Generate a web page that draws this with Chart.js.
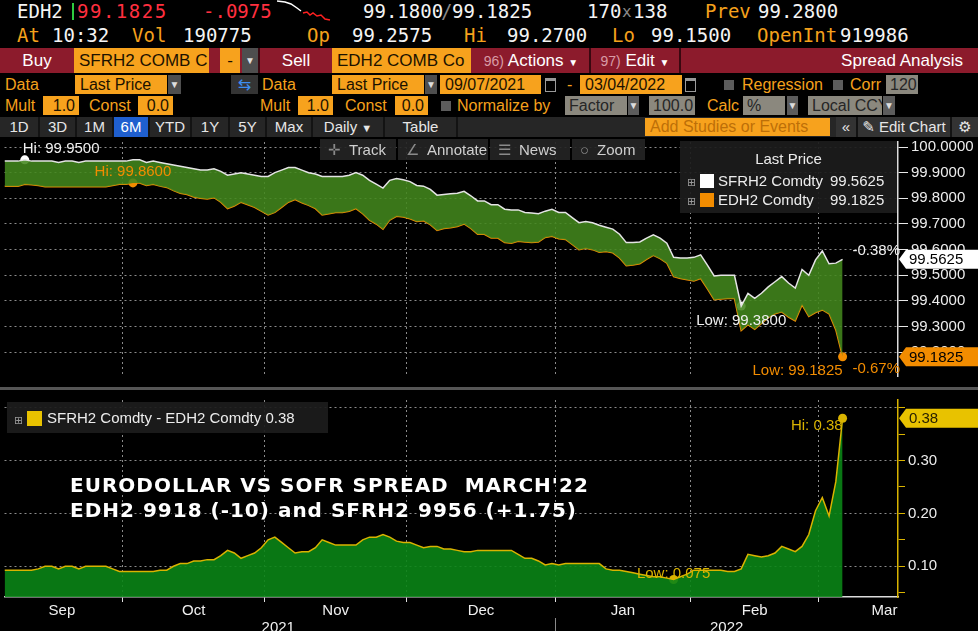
<!DOCTYPE html>
<html lang="en">

<head>
  <meta charset="UTF-8">
  <title>EDH2 vs SFRH2 Spread Analysis</title>
  <script src="https://cdn.jsdelivr.net/npm/chart.js"></script>
  <style>
    body { margin: 0; background: #000; width: 978px; height: 631px; overflow: hidden; position: relative; font-family: 'Liberation Sans', sans-serif; }
    #hdr { position: absolute; left: 0; top: 0; width: 978px; height: 137px; background: #000; z-index: 5; }
    .a { position: absolute; white-space: nowrap; }
    .m { font-family: 'DejaVu Sans Mono', monospace; font-size: 19px; line-height: 21px; }
    .o { color: #f5a11c; }
    .w { color: #f4f4f4; }
    .r { color: #ff2f3f; }
    .red { background: #8c1b2c; color: #fff; font-size: 17px; line-height: 25px; height: 25px; top: 48px; text-align: center; }
    .r3 { top: 48px; height: 25px; line-height: 25px; font-size: 17px; }
    .r4 { top: 75px; height: 19px; line-height: 19px; font-size: 16px; }
    .r5 { top: 96px; height: 19px; line-height: 19px; font-size: 16px; }
    .inp { background: #f7a21d; color: #1c1200; overflow: hidden; padding-left: 5px; box-sizing: border-box; }
    .rt { text-align: right; padding: 0 4px 0 0; }
    .gry { background: #8b887e; color: #262626; overflow: hidden; padding-left: 4px; box-sizing: border-box; }
    .dd { background: #4e4e4e; color: #ddd; text-align: center; font-size: 10px; }
    .chk { width: 10px; height: 10px; background: #5c5c5c; }
    .cal { width: 9px; height: 10px; border: 1px solid #9a9a9a; border-top: 3px solid #9a9a9a; }
    .btn { position: absolute; top: 117px; height: 20px; line-height: 20px; color: #e6e6e6; font-size: 15px; text-align: center; border-right: 2px solid #131313; box-sizing: border-box; }
    .tool { position: absolute; top: 139px; height: 21px; line-height: 21px; background: rgba(36, 36, 36, 0.92); color: #cfcfcf; font-size: 15px; z-index: 6; box-sizing: border-box; padding-left: 8px; }
    .tool span { color: #8a8a8a; margin-right: 8px; }
    .lgd { position: absolute; background: rgba(28, 28, 28, 0.93); z-index: 6; color: #ececec; font-size: 15px; }
    .plus { color: #9a9a9a; font-family: 'DejaVu Sans'; font-size: 11px; }
    .sq { display: inline-block; width: 14px; height: 14px; vertical-align: -2px; }
    canvas { position: absolute; left: 0; }
    #note { position: absolute; left: 70px; top: 473px; z-index: 6; color: #fff; font: bold 20px/25px 'DejaVu Sans', sans-serif; letter-spacing: 1px; white-space: pre;
      text-shadow: 1px 1px 0 #000, -1px -1px 0 #000, 1px -1px 0 #000, -1px 1px 0 #000; }
  </style>
</head>

<body>
  <div id="hdr">
    <!-- row 1 -->
    <span class="a m w" style="left:17px;top:1px">EDH2</span>
    <div class="a" style="left:72px;top:3px;width:2px;height:17px;background:#2ecc40"></div>
    <span class="a m r" style="left:77px;top:1px;letter-spacing:1.5px">99.1825</span>
    <span class="a m r" style="left:203px;top:1px">-.0975</span>
    <svg class="a" style="left:277px;top:0" width="56" height="22">
      <polyline points="0,1 8,2 14,4 20,8 24,11" fill="none" stroke="#fff" stroke-width="1.5" />
      <polyline points="26,13 30,12 33,15 36,13 40,16 44,15 48,19 53,20" fill="none" stroke="#ff2020" stroke-width="1.5" />
    </svg>
    <span class="a m w" style="left:363px;top:1px">99.1800</span>
    <span class="a m" style="left:441px;top:1px;color:#888">/</span>
    <span class="a m w" style="left:452px;top:1px">99.1825</span>
    <span class="a m w" style="left:587px;top:1px">170</span>
    <span class="a m" style="left:622px;top:1px;color:#888;font-size:16px">x</span>
    <span class="a m w" style="left:633px;top:1px">138</span>
    <span class="a m o" style="left:705px;top:1px">Prev</span>
    <span class="a m w" style="left:758px;top:1px">99.2800</span>
    <!-- row 2 -->
    <span class="a m o" style="left:17px;top:25px">At</span>
    <span class="a m w" style="left:52px;top:25px">10:32</span>
    <span class="a m o" style="left:132px;top:25px">Vol</span>
    <span class="a m w" style="left:183px;top:25px">190775</span>
    <span class="a m o" style="left:307px;top:25px">Op</span>
    <span class="a m w" style="left:352px;top:25px">99.2575</span>
    <span class="a m o" style="left:464px;top:25px">Hi</span>
    <span class="a m w" style="left:507px;top:25px">99.2700</span>
    <span class="a m o" style="left:612px;top:25px">Lo</span>
    <span class="a m w" style="left:651px;top:25px">99.1500</span>
    <span class="a m o" style="left:757px;top:25px">OpenInt</span>
    <span class="a m w" style="left:840px;top:25px">919986</span>
    <!-- row 3 -->
    <div class="a red" style="left:0;width:978px"></div>
    <div class="a red" style="left:0;width:74px">Buy</div>
    <div class="a inp r3" style="left:74px;width:135px">SFRH2 COMB C</div>
    <div class="a inp r3" style="left:220px;width:20px;padding:0;text-align:center">-</div>
    <div class="a dd r3" style="left:242px;width:16px">▼</div>
    <div class="a" style="left:258px;top:48px;width:2px;height:25px;background:#3a0810"></div>
    <div class="a red" style="left:260px;width:72px">Sell</div>
    <div class="a inp r3" style="left:332px;width:139px">EDH2 COMB Co</div>
    <div class="a red" style="left:473px;width:116px"><span style="color:#d99ca6;font-size:14px">96)</span> Actions <span style="font-size:10px">▼</span></div>
    <div class="a" style="left:589px;top:48px;width:2px;height:25px;background:#3a0810"></div>
    <div class="a red" style="left:591px;width:88px"><span style="color:#d99ca6;font-size:14px">97)</span> Edit <span style="font-size:10px">▼</span></div>
    <div class="a" style="left:679px;top:48px;width:2px;height:25px;background:#3a0810"></div>
    <div class="a red" style="left:681px;width:297px;text-align:right;padding-right:15px;box-sizing:border-box">Spread Analysis</div>
    <!-- row 4 -->
    <span class="a o r4" style="left:5px">Data</span>
    <div class="a inp r4" style="left:75px;width:92px">Last Price</div>
    <div class="a dd r4" style="left:168px;width:13px">▼</div>
    <div class="a r4" style="left:231px;width:27px;background:#343434;text-align:center;color:#3d8ef0;font-family:'DejaVu Sans'">⇆</div>
    <span class="a o r4" style="left:262px">Data</span>
    <div class="a inp r4" style="left:332px;width:92px">Last Price</div>
    <div class="a dd r4" style="left:425px;width:12px">▼</div>
    <div class="a inp r4" style="left:440px;width:101px">09/07/2021</div>
    <div class="a cal" style="left:545px;top:78px"></div>
    <span class="a o r4" style="left:567px">-</span>
    <div class="a inp r4" style="left:580px;width:102px">03/04/2022</div>
    <div class="a cal" style="left:685px;top:78px"></div>
    <div class="a chk" style="left:724px;top:80px"></div>
    <span class="a o r4" style="left:742px">Regression</span>
    <div class="a chk" style="left:833px;top:80px"></div>
    <span class="a o r4" style="left:850px">Corr</span>
    <div class="a gry r4" style="left:886px;width:32px">120</div>
    <!-- row 5 -->
    <span class="a o r5" style="left:5px">Mult</span>
    <div class="a inp rt r5" style="left:43px;width:36px">1.0</div>
    <span class="a o r5" style="left:89px">Const</span>
    <div class="a inp rt r5" style="left:138px;width:35px">0.0</div>
    <span class="a o r5" style="left:260px">Mult</span>
    <div class="a inp rt r5" style="left:298px;width:35px">1.0</div>
    <span class="a o r5" style="left:345px">Const</span>
    <div class="a inp rt r5" style="left:395px;width:33px">0.0</div>
    <div class="a chk" style="left:441px;top:101px"></div>
    <span class="a o r5" style="left:457px">Normalize by</span>
    <div class="a gry r5" style="left:565px;width:62px">Factor</div>
    <div class="a dd r5" style="left:628px;width:11px;background:#5c5c5c">▼</div>
    <div class="a gry rt r5" style="left:649px;width:46px">100.0</div>
    <span class="a o r5" style="left:707px">Calc</span>
    <div class="a gry r5" style="left:743px;width:42px">%</div>
    <div class="a dd r5" style="left:787px;width:11px;background:#5c5c5c">▼</div>
    <div class="a gry r5" style="left:808px;width:74px">Local CCY</div>
    <div class="a dd r5" style="left:883px;width:12px;background:#5c5c5c">▼</div>
    <!-- row 6 -->
    <div class="a" style="left:0;top:117px;width:978px;height:20px;background:#262626"></div>
    <div class="btn" style="left:0;width:40px">1D</div>
    <div class="btn" style="left:40px;width:37px">3D</div>
    <div class="btn" style="left:77px;width:37px">1M</div>
    <div class="btn" style="left:114px;width:36px;background:#1f5fcf;color:#fff">6M</div>
    <div class="btn" style="left:150px;width:42px">YTD</div>
    <div class="btn" style="left:192px;width:38px">1Y</div>
    <div class="btn" style="left:230px;width:37px">5Y</div>
    <div class="btn" style="left:267px;width:46px">Max</div>
    <div class="btn" style="left:313px;width:72px">Daily <span style="font-size:11px">▼</span></div>
    <div class="btn" style="left:385px;width:73px">Table</div>
    <div class="a inp" style="left:645px;top:118px;width:185px;height:18px;line-height:18px;font-size:16px;color:#bd6f08">Add Studies or Events</div>
    <div class="btn" style="left:836px;width:22px;background:#333">«</div>
    <div class="btn" style="left:858px;width:94px;background:#333"><span style="font-family:'DejaVu Sans'">✎</span> Edit Chart</div>
    <div class="btn" style="left:952px;width:26px;background:#333;border:0;font-family:'DejaVu Sans'">⚙</div>
  </div>

  <canvas id="upper" width="978" height="258" style="top:130px"></canvas>
  <canvas id="lower" width="978" height="243" style="top:388px"></canvas>
  <div class="a" style="left:0;top:387px;width:978px;height:3px;background:#555;z-index:6"></div>

  <div class="tool" style="left:320px;width:76px"><span>✛</span>Track</div>
  <div class="tool" style="left:398px;width:90px"><span>∠</span>Annotate</div>
  <div class="tool" style="left:490px;width:80px"><span>☰</span>News</div>
  <div class="tool" style="left:572px;width:73px"><span>○</span>Zoom</div>

  <div class="lgd" style="left:680px;top:141px;width:217px;height:72px">
    <div class="a" style="left:0;top:9px;width:217px;text-align:center">Last Price</div>
    <div class="a" style="left:7px;top:31px"><span class="plus">⊞</span> <span class="sq" style="background:#fff"></span></div>
    <div class="a" style="left:38px;top:31px">SFRH2 Comdty</div>
    <div class="a" id="lgSfr" style="left:150px;top:31px"></div>
    <div class="a" style="left:7px;top:50px"><span class="plus">⊞</span> <span class="sq" style="background:#f28c00"></span></div>
    <div class="a" style="left:38px;top:50px">EDH2 Comdty</div>
    <div class="a" id="lgEd" style="left:150px;top:50px"></div>
  </div>

  <div class="lgd" style="left:7px;top:402px;width:321px;height:31px">
    <div class="a" style="left:7px;top:8px"><span class="plus">⊞</span> <span class="sq" style="background:#e8c200;width:15px;height:15px"></span></div>
    <div class="a" id="lgSpread" style="left:40px;top:7px"></div>
  </div>

  <div id="note">EURODOLLAR VS SOFR SPREAD  MARCH'22
EDH2 9918 (-10) and SFRH2 9956 (+1.75)</div>

  <script>
    // trading calendar of the window shown (09/07/2021 - 03/04/2022)
    const startDate = '2021-09-07';
    const endDate = '2022-03-04';
    const holidays = ['2021-11-25', '2021-12-24', '2022-01-17', '2022-02-21'];
    const monthNames = ['Jan', 'Feb', 'Mar', 'Apr', 'May', 'Jun', 'Jul', 'Aug', 'Sep', 'Oct', 'Nov', 'Dec'];

    // SFRH2 Comdty, last price
    const sfrh2 = [
      99.945, 99.945, 99.945, 99.95, 99.945, 99.945, 99.945, 99.945, 99.94, 99.945,
      99.945, 99.94, 99.945, 99.945, 99.945, 99.945, 99.945, 99.945, 99.945, 99.95,
      99.95, 99.94, 99.945, 99.94, 99.935, 99.93, 99.925, 99.92, 99.915, 99.91,
      99.91, 99.915, 99.905, 99.89, 99.895, 99.90, 99.895, 99.89, 99.885, 99.885,
      99.90, 99.91, 99.92, 99.92, 99.91, 99.90, 99.895, 99.885, 99.885, 99.885,
      99.885, 99.89, 99.90, 99.89, 99.87, 99.855, 99.84, 99.87, 99.8775, 99.8725,
      99.865, 99.85, 99.8475, 99.835, 99.8125, 99.815, 99.8175, 99.82, 99.8275, 99.81,
      99.79, 99.79, 99.775, 99.775, 99.7575, 99.755, 99.755, 99.745, 99.7425, 99.74,
      99.75, 99.7575, 99.745, 99.745, 99.725, 99.705, 99.71, 99.705, 99.695, 99.6875,
      99.68, 99.66, 99.6275, 99.6275, 99.63, 99.645, 99.6575, 99.645, 99.625, 99.57,
      99.5675, 99.5675, 99.57, 99.58, 99.54, 99.4975, 99.50, 99.50, 99.50, 99.38,
      99.43, 99.41, 99.43, 99.455, 99.475, 99.495, 99.47, 99.45, 99.5225, 99.50,
      99.56, 99.595, 99.545, 99.5475, 99.5625
    ];

    // EDH2 Comdty, last price
    const edh2 = [
      99.8475, 99.8475, 99.8475, 99.855, 99.8525, 99.85, 99.845, 99.845, 99.845, 99.845,
      99.845, 99.845, 99.845, 99.845, 99.845, 99.845, 99.85, 99.855, 99.855, 99.86,
      99.86, 99.85, 99.855, 99.8475, 99.8425, 99.83, 99.82, 99.815, 99.805, 99.80,
      99.7975, 99.8025, 99.785, 99.76, 99.77, 99.785, 99.775, 99.765, 99.75, 99.735,
      99.745, 99.765, 99.785, 99.795, 99.7825, 99.7725, 99.76, 99.735, 99.74, 99.745,
      99.745, 99.75, 99.76, 99.74, 99.715, 99.70, 99.68, 99.715, 99.73, 99.7275,
      99.72, 99.71, 99.7125, 99.6975, 99.675, 99.6825, 99.685, 99.69, 99.70, 99.6825,
      99.66, 99.66, 99.645, 99.645, 99.6275, 99.625, 99.6325, 99.63, 99.6275, 99.63,
      99.6475, 99.6525, 99.6425, 99.64, 99.62, 99.60, 99.605, 99.60, 99.59, 99.5925,
      99.5875, 99.5675, 99.5375, 99.54, 99.545, 99.5625, 99.5775, 99.565, 99.5475, 99.495,
      99.4875, 99.4825, 99.4775, 99.4875, 99.4475, 99.405, 99.4075, 99.41, 99.41, 99.285,
      99.3075, 99.29, 99.3125, 99.335, 99.35, 99.3575, 99.3375, 99.3225, 99.385, 99.34,
      99.355, 99.365, 99.35, 99.2875, 99.1825
    ];

    // SFRH2 Comdty - EDH2 Comdty (lower panel)
    const spread = [
      0.0925, 0.0925, 0.0925, 0.0925, 0.0925, 0.095, 0.10, 0.10, 0.095, 0.10,
      0.10, 0.095, 0.10, 0.10, 0.10, 0.10, 0.095, 0.09, 0.09, 0.09,
      0.09, 0.09, 0.09, 0.0925, 0.0925, 0.10, 0.105, 0.105, 0.11, 0.11,
      0.1125, 0.1125, 0.12, 0.13, 0.125, 0.115, 0.12, 0.125, 0.135, 0.15,
      0.155, 0.145, 0.135, 0.125, 0.1275, 0.1275, 0.135, 0.15, 0.145, 0.14,
      0.14, 0.14, 0.14, 0.15, 0.155, 0.155, 0.16, 0.155, 0.1475, 0.145,
      0.145, 0.14, 0.135, 0.1375, 0.1375, 0.1325, 0.1325, 0.13, 0.1275, 0.1275,
      0.13, 0.13, 0.13, 0.13, 0.13, 0.13, 0.1225, 0.115, 0.115, 0.11,
      0.1025, 0.105, 0.1025, 0.105, 0.105, 0.105, 0.105, 0.105, 0.105, 0.095,
      0.0925, 0.0925, 0.09, 0.0875, 0.085, 0.0825, 0.08, 0.08, 0.0775, 0.075,
      0.08, 0.085, 0.0925, 0.0925, 0.0925, 0.0925, 0.0925, 0.09, 0.09, 0.095,
      0.1225, 0.12, 0.1175, 0.12, 0.125, 0.1375, 0.1325, 0.1275, 0.1375, 0.16,
      0.205, 0.23, 0.195, 0.26, 0.38
    ];

    const upperTicks = [99.2, 99.3, 99.4, 99.5, 99.6, 99.7, 99.8, 99.9, 100.0];
    const lowerTicks = [0.05, 0.10, 0.15, 0.20, 0.25, 0.30, 0.35, 0.40];
    const lowerLabelled = [0.10, 0.20, 0.30];

    const X_MIN = 0, X_MAX = 132.2;
    const GRID = '#8a8a8a';
    const WHITE = '#f0f0f0', ORANGE = '#f28c00', GOLD = '#d9b300';

    // trading days
    const days = [];
    for (let d = new Date(startDate + 'T00:00:00Z'); d <= new Date(endDate + 'T00:00:00Z'); d.setUTCDate(d.getUTCDate() + 1)) {
      const wd = d.getUTCDay(), iso = d.toISOString().slice(0, 10);
      if (wd !== 0 && wd !== 6 && !holidays.includes(iso)) days.push(iso);
    }

    // month / year spans on the trading-day axis
    const monthEdges = [], monthMarks = [], yearEdges = [], yearMarks = [];
    let mStart = -0.5, yStart = -0.5;
    for (let i = 1; i <= days.length; i++) {
      const last = i === days.length;
      if (last || days[i].slice(5, 7) !== days[i - 1].slice(5, 7)) {
        const name = monthNames[+days[i - 1].slice(5, 7) - 1];
        monthMarks.push({ value: last ? X_MAX - 2 : (mStart + i - 0.5) / 2, text: name });
        if (!last) monthEdges.push(i - 0.5);
        mStart = i - 0.5;
      }
      if (last || days[i].slice(0, 4) !== days[i - 1].slice(0, 4)) {
        yearMarks.push({ value: ((last ? X_MAX : i - 0.5) + yStart) / 2, text: days[i - 1].slice(0, 4) });
        if (!last) yearEdges.push(i - 0.5);
        yStart = i - 0.5;
      }
    }
    const monthText = {};
    monthMarks.forEach(m => { monthText[m.value] = m.text; });

    const pts = arr => arr.map((v, i) => ({ x: i, y: v }));
    const fmt = v => String(+v.toFixed(4));
    const pct = arr => ((arr[arr.length - 1] / arr[0] - 1) * 100).toFixed(2) + '%';
    const argOf = (arr, f) => arr.indexOf(f(...arr));

    const sfrHi = argOf(sfrh2, Math.max), sfrLo = argOf(sfrh2, Math.min);
    const edHi = argOf(edh2, Math.max), edLo = argOf(edh2, Math.min);
    const spHi = argOf(spread, Math.max), spLo = argOf(spread, Math.min);

    document.getElementById('lgSfr').textContent = sfrh2[sfrh2.length - 1].toFixed(4);
    document.getElementById('lgEd').textContent = edh2[edh2.length - 1].toFixed(4);
    document.getElementById('lgSpread').textContent = 'SFRH2 Comdty - EDH2 Comdty ' + fmt(spread[spread.length - 1]);

    Chart.defaults.font.family = "'Liberation Sans', sans-serif";
    Chart.defaults.font.size = 15;
    Chart.defaults.color = WHITE;

    const isEdge = c => c.tick && monthEdges.includes(c.tick.value);

    function xAxis(withLabels) {
      return {
        type: 'linear', min: X_MIN, max: X_MAX,
        afterBuildTicks: s => {
          s.ticks = monthEdges.concat(monthMarks.map(m => m.value)).sort((a, b) => a - b).map(v => ({ value: v }));
        },
        afterFit: s => { s.height = withLabels ? 34 : 0; },
        ticks: { display: withLabels, autoSkip: false, maxRotation: 0, padding: 0, color: WHITE, callback: v => monthText[v] || '' },
        grid: {
          color: c => isEdge(c) ? GRID : 'transparent',
          tickColor: c => isEdge(c) ? '#e0e0e0' : 'transparent',
          drawTicks: withLabels, tickLength: 5
        },
        border: { display: withLabels, color: '#dcdcdc', width: 1.5, dash: [2, 3] }
      };
    }

    function valueBox(ctx, yc, text, bg, fg) {
      ctx.fillStyle = bg;
      ctx.beginPath();
      ctx.moveTo(899, yc);
      ctx.lineTo(906, yc - 9.5);
      ctx.lineTo(978, yc - 9.5);
      ctx.lineTo(978, yc + 9.5);
      ctx.lineTo(906, yc + 9.5);
      ctx.closePath();
      ctx.fill();
      ctx.fillStyle = fg;
      ctx.textAlign = 'left';
      ctx.textBaseline = 'middle';
      ctx.fillText(text, 909, yc + 1);
    }

    function note(ctx, text, x, y, align, color) {
      ctx.fillStyle = color;
      ctx.textAlign = align;
      ctx.textBaseline = 'middle';
      ctx.fillText(text, x, y);
    }

    const upperNotes = {
      id: 'upperNotes',
      afterDraw(chart) {
        const { ctx, scales: { x, y } } = chart;
        ctx.save();
        ctx.font = "15px 'Liberation Sans'";
        note(ctx, 'Hi: ' + sfrh2[sfrHi].toFixed(4), x.getPixelForValue(sfrHi) - 2, y.getPixelForValue(sfrh2[sfrHi]) - 11, 'left', WHITE);
        note(ctx, 'Hi: ' + edh2[edHi].toFixed(4), x.getPixelForValue(edHi), y.getPixelForValue(edh2[edHi]) - 11, 'center', ORANGE);
        note(ctx, 'Low: ' + sfrh2[sfrLo].toFixed(4), x.getPixelForValue(sfrLo), y.getPixelForValue(sfrh2[sfrLo]) + 15, 'center', WHITE);
        note(ctx, 'Low: ' + edh2[edLo].toFixed(4), x.getPixelForValue(edLo), y.getPixelForValue(edh2[edLo]) + 14, 'right', ORANGE);
        const right = chart.chartArea.right;
        note(ctx, pct(sfrh2), right + 2, y.getPixelForValue(sfrh2[sfrh2.length - 1]) - 8, 'right', WHITE);
        note(ctx, pct(edh2), right + 2, y.getPixelForValue(edh2[edh2.length - 1]) + 12, 'right', ORANGE);
        valueBox(ctx, y.getPixelForValue(sfrh2[sfrh2.length - 1]), sfrh2[sfrh2.length - 1].toFixed(4), '#ffffff', '#000');
        valueBox(ctx, y.getPixelForValue(edh2[edh2.length - 1]), edh2[edh2.length - 1].toFixed(4), ORANGE, '#000');
        ctx.restore();
      }
    };

    const lowerNotes = {
      id: 'lowerNotes',
      afterDraw(chart) {
        const { ctx, scales: { x, y } } = chart;
        ctx.save();
        ctx.font = "15px 'Liberation Sans'";
        note(ctx, 'Hi: ' + fmt(spread[spHi]), x.getPixelForValue(spHi), y.getPixelForValue(spread[spHi]) + 8, 'right', GOLD);
        note(ctx, 'Low: ' + fmt(spread[spLo]), x.getPixelForValue(spLo), y.getPixelForValue(spread[spLo]) - 6, 'center', GOLD);
        yearMarks.forEach(m => note(ctx, m.text, x.getPixelForValue(m.value), 240, 'center', WHITE));
        ctx.strokeStyle = '#8a8a8a';
        ctx.lineWidth = 1;
        yearEdges.forEach(v => {
          const px = Math.round(x.getPixelForValue(v)) + 0.5;
          ctx.beginPath();
          ctx.moveTo(px, 230);
          ctx.lineTo(px, 243);
          ctx.stroke();
        });
        valueBox(ctx, y.getPixelForValue(spread[spread.length - 1]), fmt(spread[spread.length - 1]), '#e8c200', '#2a2200');
        ctx.restore();
      }
    };

    new Chart(document.getElementById('upper'), {
      type: 'line',
      data: {
        datasets: [
          { data: pts(sfrh2), borderColor: '#e4e4e4', borderWidth: 1.5, pointRadius: 0, fill: '+1', backgroundColor: 'rgba(66,134,28,0.88)' },
          { data: pts(edh2), borderColor: ORANGE, borderWidth: 1.5, pointRadius: 0, fill: false },
          { data: [{ x: sfrHi, y: sfrh2[sfrHi] }, { x: sfrLo, y: sfrh2[sfrLo] }], showLine: false, pointRadius: 4.5, pointBorderWidth: 0, pointBackgroundColor: '#fff', fill: false },
          { data: [{ x: edHi, y: edh2[edHi] }, { x: edLo, y: edh2[edLo] }], showLine: false, pointRadius: 4.5, pointBorderWidth: 0, pointBackgroundColor: ORANGE, fill: false }
        ]
      },
      options: {
        responsive: false, animation: false, events: [],
        layout: { padding: { top: 8, bottom: 2 } },
        plugins: { legend: { display: false }, tooltip: { enabled: false } },
        elements: { line: { tension: 0 } },
        scales: {
          x: xAxis(false),
          y: {
            position: 'right', min: 99.1077, max: 100.0195,
            afterBuildTicks: s => { s.ticks = upperTicks.map(v => ({ value: v })); },
            afterFit: s => { s.width = 80; },
            ticks: { color: '#ececec', padding: 3, callback: v => v.toFixed(4) },
            grid: { color: GRID, tickColor: '#e8e8e8', tickLength: 10 },
            border: { color: '#dcdcdc', width: 1.5, dash: [2, 3] }
          }
        }
      },
      plugins: [upperNotes]
    });

    new Chart(document.getElementById('lower'), {
      type: 'line',
      data: {
        datasets: [
          { data: pts(spread), borderColor: GOLD, borderWidth: 1.5, pointRadius: 0, fill: 'start', backgroundColor: 'rgba(10,132,22,0.9)' },
          { data: [{ x: spHi, y: spread[spHi] }, { x: spLo, y: spread[spLo] }], showLine: false, pointRadius: 4.5, pointBorderWidth: 0, pointBackgroundColor: GOLD, fill: false }
        ]
      },
      options: {
        responsive: false, animation: false, events: [],
        layout: { padding: { top: 4 } },
        plugins: { legend: { display: false }, tooltip: { enabled: false } },
        elements: { line: { tension: 0 } },
        scales: {
          x: xAxis(true),
          y: {
            position: 'right', min: 0.0418, max: 0.4145,
            afterBuildTicks: s => { s.ticks = lowerTicks.map(v => ({ value: v })); },
            afterFit: s => { s.width = 80; },
            ticks: { color: '#ececec', padding: 3, callback: v => lowerLabelled.includes(v) ? v.toFixed(2) : '' },
            grid: {
              color: c => c.tick && Math.round(c.tick.value * 100) % 10 === 0 ? GRID : 'transparent',
              tickColor: GOLD, tickLength: 7
            },
            border: { color: GOLD, width: 1.5, dash: [2, 3] }
          }
        }
      },
      plugins: [lowerNotes]
    });
  </script>
</body>

</html>
